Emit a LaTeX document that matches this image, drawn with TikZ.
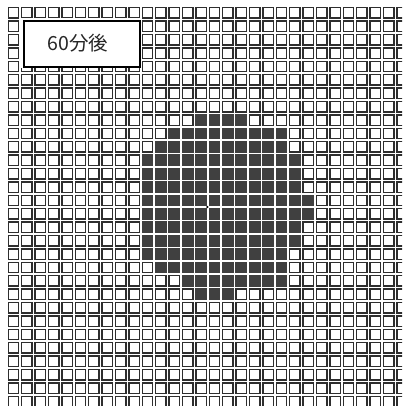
\documentclass[tikz,border=0pt]{standalone}
\usepackage{fontspec}
\newfontfamily\jpfont{Noto Sans CJK JP}
\definecolor{cellline}{HTML}{2E2E2E}
\definecolor{cellfill}{HTML}{404040}
\begin{document}
\begin{tikzpicture}[x=1pt,y=-1pt,
  wcell/.style={draw=cellline, line width=1.4pt, fill=white},
  dcell/.style={fill=cellfill},
  labelbox/.style={draw=black, line width=1.8pt, fill=white, inner sep=0pt},
  labeltext/.style={font=\jpfont\fontsize{19.5}{22}\selectfont, text=black!85, inner sep=0pt}]
\useasboundingbox (0,0) rectangle (402,406);
\clip (0,0) rectangle (402,406);
\fill[white] (0,0) rectangle (402,406);
% white grid cells
\foreach \c in {0,...,29}{
  \foreach \r in {0,...,29}{
    \draw[wcell] (6.7+13.4*\c+1.5, 6.2+13.4*\r+1.5) rectangle ++(10.4,10.4);
  }}
% dark cells
\foreach \r/\a/\b in {8/14/17, 9/12/20, 10/11/20, 11/10/21, 12/10/21, 13/10/21,
  14/10/22, 15/10/22, 16/10/21, 17/10/21, 18/10/20, 19/11/20, 20/13/20, 21/14/16}{
  \foreach \c in {\a,...,\b}{
    \fill[dcell] (6.7+13.4*\c+0.8, 6.2+13.4*\r+0.8) rectangle ++(11.8,11.8);
  }}
% centre mark
\node[circle, fill=black, inner sep=0pt, minimum size=2.4pt] (centre) at (207.4,207.0) {};
% label box
\fill[white] (21,18.5) rectangle (141.5,68.5);
\node[labelbox, anchor=north west, minimum width=116pt, minimum height=46pt] (box) at (23,20.5) {};
\node[labeltext] (label) at (78,43.5) {60分後};
\end{tikzpicture}
\end{document}
